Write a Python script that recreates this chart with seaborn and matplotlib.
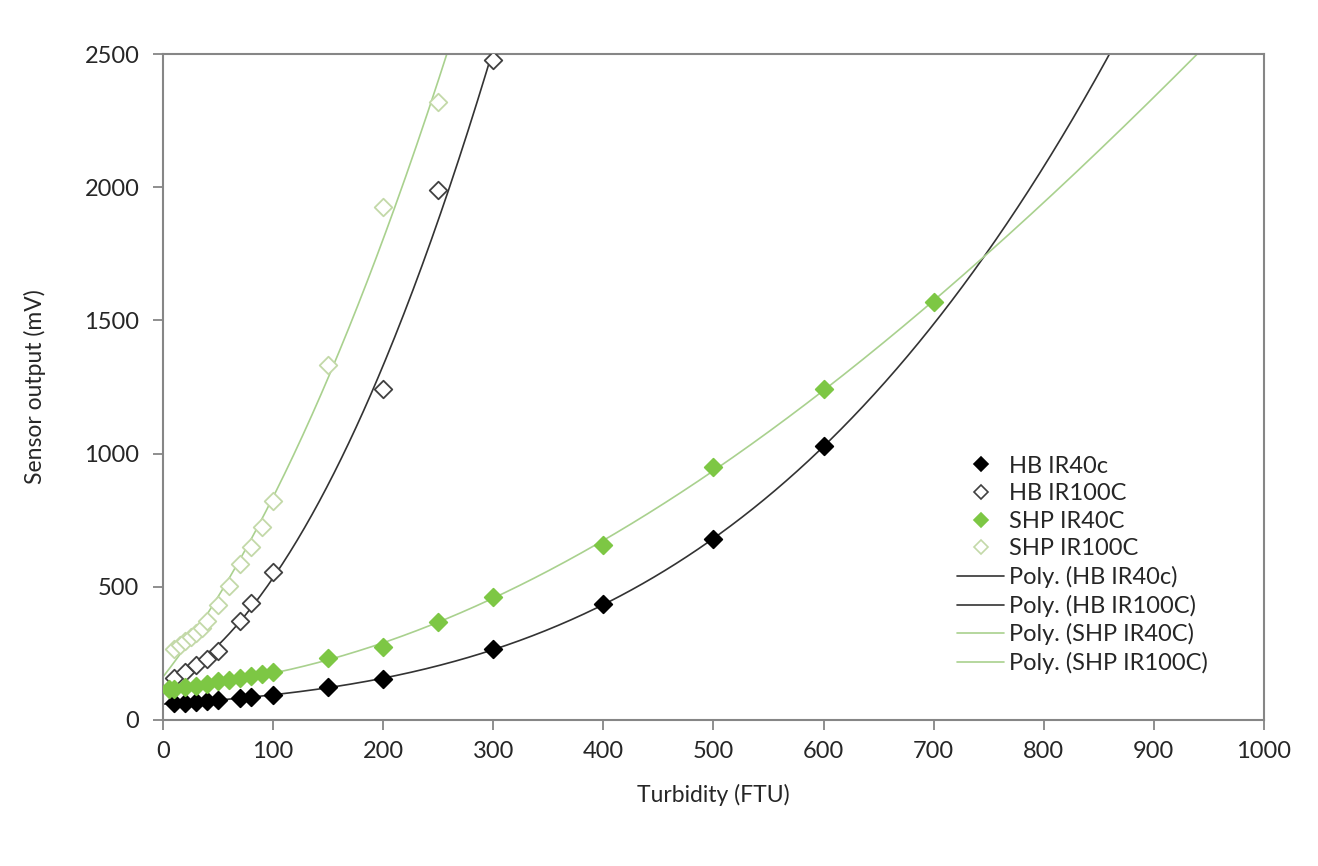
import numpy as np
import pandas as pd
import matplotlib
matplotlib.use('Agg')
import matplotlib.pyplot as plt
import seaborn as sns
from matplotlib.lines import Line2D

# data
hb40_x = [10, 20, 30, 40, 50, 70, 80, 100, 150, 200, 300, 400, 500, 600]
hb40_y = [62, 65, 68, 72, 76, 82, 86, 93, 123, 154, 266, 435, 679, 1028]

hb100_x = [10, 20, 30, 40, 50, 70, 80, 100, 200, 250, 300]
hb100_y = [158, 180, 205, 230, 258, 370, 440, 555, 1241, 1990, 2478]

shp40_x = [5, 10, 20, 30, 40, 50, 60, 70, 80, 90, 100, 150, 200, 250, 300, 400, 500, 600, 700]
shp40_y = [115, 118, 122, 127, 135, 145, 152, 158, 165, 172, 180, 231, 275, 367, 460, 657, 951, 1241, 1570]

shp100_x = [10, 15, 20, 25, 30, 35, 40, 50, 60, 70, 80, 90, 100, 150, 200, 250]
shp100_y = [268, 282, 295, 310, 325, 345, 370, 430, 503, 586, 651, 726, 823, 1333, 1927, 2320]

names = ['HB IR40c', 'HB IR100C', 'SHP IR40C', 'SHP IR100C']
xs = [hb40_x, hb100_x, shp40_x, shp100_x]
ys = [hb40_y, hb100_y, shp40_y, shp100_y]
poly_order = [3, 2, 3, 2]

frames = []
for n, x, y in zip(names, xs, ys):
    frames.append(pd.DataFrame({'Turbidity': x, 'Output': y, 'Series': n}))
df = pd.concat(frames, ignore_index=True)

# polynomial trendlines like excel
fits = []
grid = np.linspace(0, 1000, 600)
for n, x, y, k in zip(names, xs, ys, poly_order):
    c = np.polyfit(x, y, k)
    fits.append(pd.DataFrame({'Turbidity': grid, 'Output': np.polyval(c, grid), 'Series': 'Poly. (' + n + ')'}))
fit_df = pd.concat(fits, ignore_index=True)

sns.set_style('white')
plt.rcParams['font.family'] = ['Lato', 'DejaVu Sans']

fig = plt.figure(figsize=(13.18, 8.66), dpi=100)
ax = fig.add_axes([0.1237, 0.1686, 0.8353, 0.769])

line_cols = ['#333333', '#333333', '#a9d18e', '#a9d18e']
sns.lineplot(data=fit_df, x='Turbidity', y='Output', hue='Series', palette=line_cols,
             linewidth=1.2, ax=ax, legend=False, sort=False, estimator=None)

face = ['black', 'white', '#7dc744', 'white']
edge = ['black', '#404040', '#7dc744', '#c3d9a8']
for i, n in enumerate(names):
    sub = df[df['Series'] == n]
    sns.scatterplot(data=sub, x='Turbidity', y='Output', marker='D', s=80,
                    color=face[i], edgecolor=edge[i], linewidth=1.3, ax=ax, zorder=3)

ax.set_xlim(0, 1000)
ax.set_ylim(0, 2500)
ax.set_xticks(range(0, 1001, 100))
ax.set_yticks(range(0, 2501, 500))
for s in ax.spines.values():
    s.set_color('#868686')
    s.set_linewidth(1.5)
ax.tick_params(axis='both', which='both', direction='out', length=7, width=1.3,
               color='#868686', labelsize=17, pad=10)
ax.tick_params(axis='x', bottom=True, pad=8)
ax.tick_params(axis='y', left=True)
ax.set_xlabel('Turbidity (FTU)', fontsize=16.5, labelpad=16)
ax.set_ylabel('Sensor output (mV)', fontsize=16.5, labelpad=28)

# legend: markers first, then trendlines
handles = []
for i in range(4):
    handles.append(Line2D([], [], linestyle='none', marker='D', markersize=7.5,
                          markerfacecolor=face[i], markeredgecolor=edge[i], markeredgewidth=1.2))
for i in range(4):
    handles.append(Line2D([], [], color=line_cols[i], linewidth=1.2))
labels = names + ['Poly. (' + n + ')' for n in names]
ax.legend(handles, labels, loc='upper left', bbox_to_anchor=(0.702, 0.429), frameon=False,
          fontsize=17, labelspacing=0.28, handlelength=2.0, handletextpad=0.2)

fig.savefig('out.png', dpi=100)
